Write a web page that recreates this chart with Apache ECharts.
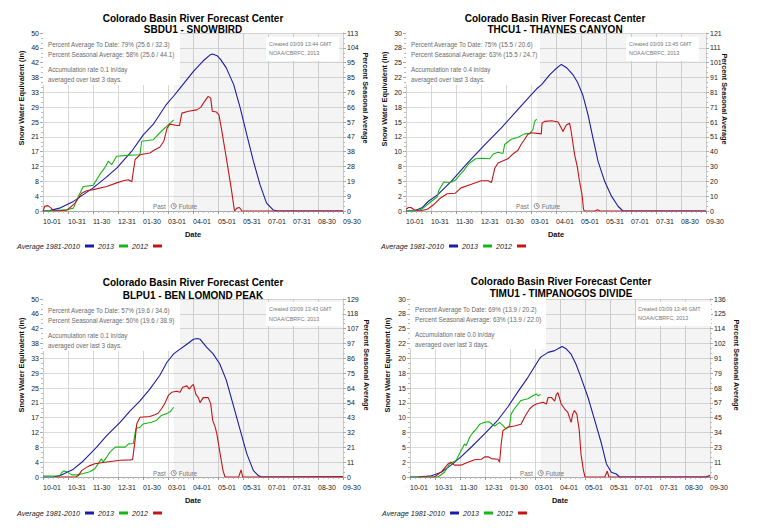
<!DOCTYPE html>
<html><head><meta charset="utf-8">
<script src="https://cdn.jsdelivr.net/npm/echarts@6/dist/echarts.min.js"></script>
<style>html,body{margin:0;padding:0;background:#fff}#c{width:759px;height:532px}</style>
</head><body><div id="c"></div><script>
// ---------- shared categories / ticks ----------
const dateLabels = ['10-01','10-31','11-30','12-31','01-30','03-01','04-01','05-01','05-31','07-01','07-31','08-30','09-30'];
const seriesNames = ['Average 1981-2010', '2013', '2012'];
const todayDay = 159;      // 03-09, days since 10-01
const yearDays = 365;

const ticks50 = ['0','4','8','12','17','21','25','29','33','38','42','46','50'];
const ticks30 = ['0','2','5','8','10','12','15','18','20','22','25','28','30'];
const snowbirdPct = ['0','9','19','28','38','47','57','66','76','85','95','104','113'];
const thaynesPct = ['0','10','20','30','40','51','61','71','81','91','101','111','121'];
const benLomondPct = ['0','11','21','32','43','54','64','75','86','97','107','118','129'];
const timpanogosPct = ['0','11','23','34','45','57','68','79','91','102','114','125','136'];

// ---------- series values: [day since 10-01, SWE inches] ----------
const snowbirdAvg = [[0,0],[8,0.1],[20,0.8],[37,2.7],[61,6.5],[76,9.3],[90,12.1],[108,16.8],[122,21.4],[134,24.3],[150,29.9],[159,32.3],[167,34.6],[183,39.2],[195,42.2],[203,43.8],[206,44.1],[212,43.6],[216,42.6],[223,40.2],[232,35.5],[240,28.9],[248,21.4],[256,14],[264,7.4],[272,2.2],[280,0.3],[286,0],[365,0]];
const snowbird2013 = [[0,0],[15,0.1],[30,0.4],[37,0.8],[43,4.1],[49,6.9],[61,7.2],[69,10.2],[75,12.1],[79.5,14],[83.5,13],[89.6,15.4],[106,15.7],[118,15.8],[120,19.6],[134,20],[144,22.4],[152,24.1],[159,25.6]];
const snowbird2012 = [[0,0],[2,1.3],[6,1.5],[10,0.8],[12.5,0],[29,0.2],[37,1.8],[39,2.2],[47,5],[53,5.7],[61,6],[77.5,6.9],[89.6,7.9],[97.7,8.5],[103.8,8.8],[108,8.2],[112,14.4],[118,15.8],[130,16.3],[136,17.2],[142,17.9],[147,19.6],[151,23.3],[154.5,24.4],[162.6,24],[166,24],[169,27.5],[177,28],[187,28.4],[192,29.1],[196,30.6],[201,32.2],[204,31.7],[206,28],[211,27.8],[214,27],[217,23.3],[221,17.7],[225,12.1],[229.5,5.6],[233,0],[236,0.8],[239,1],[242,0],[365,0]];

const thaynesAvg = [[0,0],[10,0],[20,0.6],[27,1.6],[39,2.8],[55,5],[75,8.1],[96,11.2],[116,14],[136,17.1],[152.5,19.6],[159,20.6],[165,21.3],[175,23],[181,23.8],[187,24.5],[189,24.7],[195,24.2],[203,23],[209,21.6],[215,19.6],[221.5,16.2],[227.5,12.3],[233.6,8.4],[241.7,5],[250,2.5],[258,0.8],[264,0],[365,0]];
const thaynes2013 = [[0,0],[15,0.1],[20,0.4],[28,1.3],[38,2.4],[40,3.5],[46,4.9],[54,4.8],[60,5.2],[70.6,6.9],[76.6,8],[84.7,8.8],[92,8.9],[102,8.8],[106,9.6],[112,9.9],[118,9.7],[120,11.2],[128,12.1],[136,12.4],[144,13],[150.5,13.1],[154.5,13.7],[156.5,15.1],[159,15.5]];
const thaynes2012 = [[0,0.3],[3,0.6],[6,0.6],[10,0.2],[16,0],[26,0.3],[34,1.1],[42,2.2],[50,2.9],[60,3],[67,3.9],[79.5,4.5],[91.6,5.1],[100,5.1],[104,4.8],[108,7.2],[112,8.1],[124,8.8],[130,9.6],[136,10.2],[140,11.2],[144,12],[148,12.9],[152.5,13.2],[164.6,13],[165.5,14.8],[168.7,15.1],[177,15.2],[185,15],[189,14],[191,13.4],[195,14.5],[199,14.8],[201,13.4],[205,9.6],[208.5,7.4],[211,5.1],[214,2.9],[216,0.3],[217,0],[230,0],[233,0.2],[236,0],[365,0]];

const benLomondAvg = [[0,0],[12,0],[21,0.4],[37,2.2],[49,4.5],[65,8.3],[77.5,11.6],[94,15.4],[106,18.6],[118,21.4],[130,24.7],[142,28.5],[151,32.3],[159,34.6],[163,35.3],[175,37.3],[183,38.7],[188,38.9],[191,38.7],[199,36.5],[207,34.6],[215,31.8],[223,27.2],[231,20.6],[240,13.1],[248,6.5],[256,1.8],[262,0.4],[266,0],[365,0]];
const benLomond2013 = [[0,0.3],[10,0.3],[20,0.3],[22,1],[25,1.7],[29,1.5],[35,0.6],[41,0.6],[49,1],[57,1.5],[63,2.3],[67,3.7],[71,5.1],[73,4.2],[77.5,5.6],[81.5,7],[85.5,7.9],[88,8.4],[100,8.4],[104,9.3],[110,9.4],[113,13.6],[118,14],[122,14.9],[132,15.4],[138,15.9],[144,17.3],[150.5,17.8],[154.5,18.3],[159,19.6]];
const benLomond2012 = [[15,0],[40,0],[43,0.4],[47,1.8],[53,2.7],[57,3.2],[63,3.7],[77.5,4.2],[94,4.7],[106,4.8],[109,4.9],[112,10.3],[114,14.9],[118,16.8],[130,17],[136,17.5],[140,17.9],[144,19.1],[148,20.6],[152.5,22.9],[156.5,23.8],[162.6,24.1],[166.7,23.8],[170,25.2],[175,25.6],[178,24.7],[181,25.6],[183,26],[186,23.2],[189,22.3],[191,20.9],[195,22.3],[201,22.3],[204,20.6],[206.5,15.9],[209.5,14],[211.5,12.1],[215.5,6.5],[219,1.8],[221.5,0],[238,0],[241,2],[243,0],[365,0.1]];

const timpanogosAvg = [[0,0],[10,0],[26,0.2],[38,0.8],[50,2],[62,3.4],[75,5.1],[91,7.3],[107,9.6],[119,11.8],[131,14.3],[143.5,16.8],[156,19.6],[159,20.2],[168,21],[176,21.3],[180,21.6],[185,22],[190,21.6],[196,20.7],[202,19],[208,16.8],[216.6,13.4],[224.7,9.6],[233,5.6],[239,2.2],[245,0.8],[251,0.5],[255,0],[365,0]];
const timpanogos2013 = [[0,0],[34,0],[42,0.8],[48,2.2],[52,2.5],[56,2.8],[62.4,4.5],[66.5,5.6],[68.5,5.3],[72.6,6.7],[76.6,7.5],[80.7,8.1],[84.8,8.9],[90,9.2],[96,9.3],[100,8.9],[103,8.6],[109,9.2],[115,8.4],[117,8.1],[121,8.6],[123,10.6],[127,11.5],[135,12.9],[143.5,13.2],[149.6,13.7],[153.7,14],[155.7,13.7],[159,13.9]];
const timpanogos2012 = [[10,0],[30,0],[39,1],[45,2],[46,2.2],[50,2.5],[54,2],[62,2],[70.5,2.5],[78.6,2.9],[86.8,3],[90.8,3.4],[95,3.4],[99,3.1],[107,3],[109,2.5],[111,5.6],[113,7.8],[119,8.4],[127,8.6],[135,8.9],[139.5,10.1],[145.6,11.5],[149.6,12],[153.7,12.3],[161.8,12.6],[166,12.3],[168,13.4],[172,13.4],[176,12.8],[178,13.9],[180,14.2],[184,12.3],[188,11.5],[192,10.9],[196,9.2],[198,10.6],[200,11.2],[203,10.6],[206,7.8],[208,3.9],[211,1.1],[213,0],[237,0],[240,1],[242,0],[360,0],[365,0.3]];

// ---------- panel texts ----------
const panels = [
  {code:'SBDU1 - SNOWBIRD', yMax:50, left:ticks50, right:snowbirdPct, avg:snowbirdAvg, y13:snowbird2013, y12:snowbird2012,
   info:['Percent Average To Date: 79% (25.6 / 32.3)','Percent Seasonal Average: 58% (25.6 / 44.1)','Accumulation rate 0.1 in/day','averaged over last 3 days.'], created:'Created 03/09 13:44 GMT'},
  {code:'THCU1 - THAYNES CANYON', yMax:30, left:ticks30, right:thaynesPct, avg:thaynesAvg, y13:thaynes2013, y12:thaynes2012,
   info:['Percent Average To Date: 75% (15.5 / 20.6)','Percent Seasonal Average: 63% (15.5 / 24.7)','Accumulation rate 0.4 in/day','averaged over last 3 days.'], created:'Created 03/09 13:45 GMT'},
  {code:'BLPU1 - BEN LOMOND PEAK', yMax:50, left:ticks50, right:benLomondPct, avg:benLomondAvg, y13:benLomond2013, y12:benLomond2012,
   info:['Percent Average To Date: 57% (19.6 / 34.6)','Percent Seasonal Average: 50% (19.6 / 38.9)','Accumulation rate 0.1 in/day','averaged over last 3 days.'], created:'Created 03/09 13:43 GMT'},
  {code:'TIMU1 - TIMPANOGOS DIVIDE', yMax:30, left:ticks30, right:timpanogosPct, avg:timpanogosAvg, y13:timpanogos2013, y12:timpanogos2012,
   info:['Percent Average To Date: 69% (13.9 / 20.2)','Percent Seasonal Average: 63% (13.9 / 22.0)','Accumulation rate 0.0 in/day','averaged over last 3 days.'], created:'Created 03/09 13:46 GMT'}
];

// ---------- layout (pixels) ----------
const layouts = [
  {gl:43, gt:33, tx:193, ty:18, sy:29, lnX:21, rnX:365, nY:98, lgL:17, lgT:242.5, bx:[43,33,137,52], b2:[266,37,73,24], iX:48, iY:[44,54,69,79], cX:269, cY:[44,53], pY:206},
  {gl:406, gt:33, tx:555, ty:18.3, sy:29.3, lnX:384, rnX:724, nY:99, lgL:381, lgT:242.5, bx:[406,33,134,52], b2:[626,37,73,24], iX:411, iY:[44,54,69,79], cX:629, cY:[44,53], pY:206},
  {gl:43, gt:299, tx:193, ty:282.7, sy:295.3, lnX:21, rnX:366, nY:365, lgL:17, lgT:509.5, bx:[43,299,137,52], b2:[266,302,76,24], iX:48, iY:[310,320,335,345], cX:269, cY:[309,319], pY:473},
  {gl:410, gt:299, tx:561, ty:281.7, sy:293.3, lnX:387, rnX:736, nY:365, lgL:382, lgT:509.5, bx:[410,299,136,50], b2:[636,302,75,24], iX:415, iY:[309,319,334,344], cX:638, cY:[309,318], pY:473}
];
const PW = 300, PH = 178;
const FONT = '"Liberation Sans", Arial, Helvetica, sans-serif';
const colors = ['#1c1ca6', '#14b814', '#c41616'];

const grid = [], xAxis = [], yAxis = [], series = [], legend = [], graphic = [];

panels.forEach((p, i) => {
  const L = layouts[i];
  grid.push({left:L.gl, top:L.gt, width:PW, height:PH, containLabel:false, outerBoundsMode:'none'});
  xAxis.push({
    type:'value', gridIndex:i, min:0, max:yearDays, interval:yearDays/12,
    name:'Date', nameLocation:'middle', nameGap:19,
    nameTextStyle:{fontFamily:FONT, fontSize:7.5, fontWeight:'bold', color:'#111'},
    axisLine:{show:true, lineStyle:{color:'#aaa', width:1}},
    axisTick:{show:true, length:3, lineStyle:{color:'#999'}},
    minorTick:{show:true, splitNumber:5, length:2, lineStyle:{color:'#bbb'}},
    splitLine:{show:true, lineStyle:{color:'#d6d6d6', width:1}},
    axisLabel:{fontFamily:FONT, fontSize:7, color:'#222', margin:7, align:'left', showMinLabel:true, showMaxLabel:true,
      formatter:v => dateLabels[Math.round(v*12/yearDays)]}
  });
  yAxis.push({
    type:'value', gridIndex:i, position:'left', min:0, max:p.yMax, interval:p.yMax/12,
    axisLine:{show:true, lineStyle:{color:'#ccc'}},
    axisTick:{show:true, length:3, lineStyle:{color:'#aaa'}},
    minorTick:{show:true, splitNumber:3, length:2, lineStyle:{color:'#bbb'}},
    splitLine:{show:true, lineStyle:{color:'#dcdcdc', width:1}},
    axisLabel:{fontFamily:FONT, fontSize:7, color:'#222', margin:4,
      formatter:v => p.left[Math.round(v*12/p.yMax)]}
  });
  yAxis.push({
    type:'value', gridIndex:i, position:'right', min:0, max:12, interval:1,
    axisLine:{show:true, lineStyle:{color:'#ccc'}},
    axisTick:{show:true, length:3, lineStyle:{color:'#aaa'}},
    minorTick:{show:true, splitNumber:3, length:2, lineStyle:{color:'#bbb'}},
    splitLine:{show:false},
    axisLabel:{fontFamily:FONT, fontSize:7, color:'#222', margin:4,
      formatter:v => p.right[Math.round(v)]}
  });
  // future shading
  series.push({
    type:'line', xAxisIndex:i, yAxisIndex:2*i, data:[[todayDay,0]], showSymbol:false, silent:true, z:1,
    lineStyle:{opacity:0}, tooltip:{show:false},
    markArea:{silent:true, itemStyle:{color:'rgba(0,0,0,0.045)'}, data:[[{xAxis:todayDay},{xAxis:yearDays}]]}
  });
  [p.avg, p.y13, p.y12].forEach((d, k) => {
    series.push({
      name:seriesNames[k], type:'line', xAxisIndex:i, yAxisIndex:2*i, data:d,
      showSymbol:false, symbol:'none', smooth:false, z:3,
      lineStyle:{color:colors[k], width:1.1}, itemStyle:{color:colors[k]}
    });
  });
  legend.push({
    data:seriesNames, left:L.lgL, top:L.lgT, orient:'horizontal', align:'right', icon:'rect',
    itemWidth:9, itemHeight:3, itemGap:4, padding:0, selectedMode:false,
    textStyle:{fontFamily:FONT, fontSize:7.2, fontStyle:'italic', color:'#222', padding:[0,0,0,0]}
  });
  // titles
  graphic.push({type:'text', x:L.tx, y:L.ty, z:10, style:{text:'Colorado Basin River Forecast Center', fill:'#000', fontFamily:FONT, fontSize:10, fontWeight:'bold', textAlign:'center', textVerticalAlign:'middle'}});
  graphic.push({type:'text', x:L.tx, y:L.sy, z:10, style:{text:p.code, fill:'#000', fontFamily:FONT, fontSize:10, fontWeight:'bold', textAlign:'center', textVerticalAlign:'middle'}});
  // axis names
  graphic.push({type:'text', x:L.lnX, y:L.nY, rotation:Math.PI/2, z:10, style:{text:'Snow Water Equivalent (in)', fill:'#111', fontFamily:FONT, fontSize:7.4, fontWeight:'bold', textAlign:'center', textVerticalAlign:'middle'}});
  graphic.push({type:'text', x:L.rnX, y:L.nY, rotation:-Math.PI/2, z:10, style:{text:'Percent Seasonal Average', fill:'#111', fontFamily:FONT, fontSize:7.3, fontWeight:'bold', textAlign:'center', textVerticalAlign:'middle'}});
  // info boxes
  graphic.push({type:'rect', z:1.5, shape:{x:L.bx[0], y:L.bx[1], width:L.bx[2], height:L.bx[3]}, style:{fill:'#fff'}});
  graphic.push({type:'rect', z:1.5, shape:{x:L.b2[0], y:L.b2[1], width:L.b2[2], height:L.b2[3]}, style:{fill:'#fff'}});
  p.info.forEach((t, k) => {
    graphic.push({type:'text', x:L.iX, y:L.iY[k], z:1.6, style:{text:t, fill:'#6a6a6a', fontFamily:FONT, fontSize:6.3, textAlign:'left', textVerticalAlign:'middle'}});
  });
  [p.created, 'NOAA/CBRFC, 2013'].forEach((t, k) => {
    graphic.push({type:'text', x:L.cX, y:L.cY[k], z:1.6, style:{text:t, fill:'#777', fontFamily:FONT, fontSize:5.4, textAlign:'left', textVerticalAlign:'middle'}});
  });
  // Past / Future marker
  const bxX = L.gl + todayDay * PW / yearDays;
  graphic.push({type:'text', x:bxX - 8, y:L.pY, z:1.6, style:{text:'Past', fill:'#777', fontFamily:FONT, fontSize:6.4, textAlign:'right', textVerticalAlign:'middle'}});
  graphic.push({type:'circle', z:1.6, shape:{cx:bxX, cy:L.pY, r:2.6}, style:{fill:'none', stroke:'#777', lineWidth:0.8}});
  graphic.push({type:'polyline', z:1.6, shape:{points:[[bxX, L.pY-1.8],[bxX, L.pY],[bxX+1.4, L.pY+0.6]]}, style:{fill:'none', stroke:'#777', lineWidth:0.7}});
  graphic.push({type:'text', x:bxX + 5, y:L.pY, z:1.6, style:{text:'Future', fill:'#777', fontFamily:FONT, fontSize:6.4, textAlign:'left', textVerticalAlign:'middle'}});
});

const chart = echarts.init(document.getElementById('c'), null, {renderer:'svg', width:759, height:532});
chart.setOption({
  animation:false,
  backgroundColor:'#fff',
  textStyle:{fontFamily:FONT},
  grid, xAxis, yAxis, series, legend, graphic
});
</script></body></html>
